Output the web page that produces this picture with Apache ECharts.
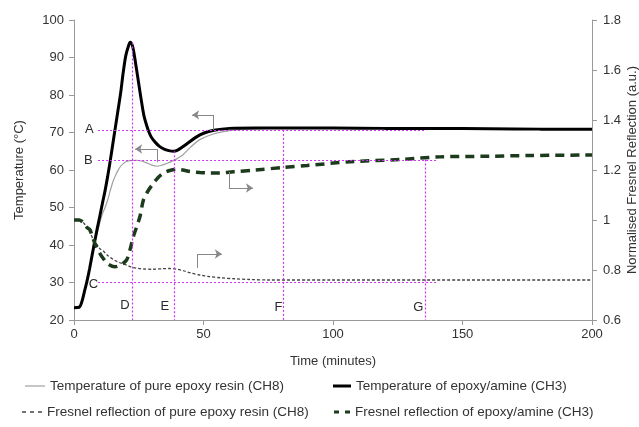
<!DOCTYPE html>
<html>
<head>
<meta charset="utf-8">
<script src="https://cdn.jsdelivr.net/npm/echarts@6/dist/echarts.min.js"></script>
<style>html,body{margin:0;padding:0;background:#fff}#c{width:639px;height:427px}</style>
</head>
<body>
<div id="c"></div>
<script>
// ---- data ----
var seriesNames = [
  'Temperature of pure epoxy resin (CH8)',
  'Temperature of epoxy/amine (CH3)',
  'Fresnel reflection of pure epoxy resin (CH8)',
  'Fresnel reflection of epoxy/amine (CH3)'
];
var xTicks = [0, 50, 100, 150, 200];

var tempCH3Time = [0,2,3,4,5,6,7,8,9,10,11,12,13,14,15,16,17,18,19,20,21,21.7,22.5,23.2,24,25,26,27,28,29,30,31.5,33,35,37,38.5,40,42,44,47,50,54,60,70,80,100,120,140,160,180,200];
var tempCH3 = [23.3,23.4,24.8,27.5,30.3,33.6,37.3,41,44.5,47.8,51.2,54.5,58.3,62.5,67,71.5,76,80.5,86,90.5,93,94.1,93.3,91,87.5,83,78.5,74.5,72,70,68.6,67.3,66.3,65.5,65.1,65,65.3,66.2,67.2,68.7,69.8,70.6,71.1,71.2,71.2,71.2,71.1,71.1,71,70.9,70.9];

var tempCH8Time = [0,2,3,4,5,6,7,8,9,10,11,12,13,14,15,16,17,18,19,20,21.5,24,26,28,30,32,34,36,38.3,40,42,45,48.6,53.8,60,67,75,80,100,120,140,160,180,200];
var tempCH8 = [23.3,23.4,24.8,27.5,30.3,33.6,37,40.3,43.3,46,48.3,50,52,54.5,56.8,58.5,59.9,61,61.7,62.2,62.5,62.6,62.4,61.9,61.3,61,61.3,61.8,62.5,63.1,64,66.1,68.1,69.6,70.5,70.9,71.1,71.2,71.2,71.1,71.1,71,70.9,70.9];

var fresCH8Time = [0,2,3,4,5,6.2,7.5,9,10,11.3,13,15.2,17.5,20.3,22,24.2,27,30.6,34,37,40,42.2,45,48.6,52,56.4,62,68,75,100,150,200];
var fresCH8 = [1.0,1.0,0.995,0.985,0.97,0.95,0.92,0.9,0.885,0.876,0.858,0.842,0.83,0.82,0.812,0.807,0.804,0.803,0.805,0.806,0.803,0.797,0.788,0.78,0.774,0.769,0.765,0.762,0.76,0.76,0.76,0.76];

var fresCH3Time = [0,2,3,4,5,6.2,7,8.1,9.5,11.3,13,15.8,18,20.3,21.6,22.8,24.2,25.5,26.8,28.5,30.6,32.5,34.5,37,39.6,42,44.8,48.6,52.5,56,61.5,70,80.8,90,106.6,125.9,141.3,160,176,200];
var fresCH3 = [1.0,1.0,0.995,0.985,0.97,0.96,0.935,0.906,0.875,0.846,0.825,0.813,0.82,0.84,0.88,0.93,0.973,1.015,1.08,1.115,1.146,1.17,1.187,1.198,1.203,1.2,1.194,1.19,1.188,1.188,1.193,1.2,1.21,1.218,1.233,1.242,1.2525,1.255,1.258,1.26];

// reference (magenta dotted) lines: [x1, y1, x2, y2] in data units (left axis)
var refLines = [
  [9.3, 70.6, 136, 70.6],   // A
  [9.3, 62.5, 140, 62.5],   // B
  [9.3, 30.2, 140, 30.2],   // C
  [22.3, 94, 22.3, 20],     // D
  [38.6, 65, 38.6, 20],     // E
  [80.8, 70.7, 80.8, 20],   // F
  [135.8, 62.8, 135.8, 20]  // G
];
var refLabels = ['A','B','C','D','E','F','G'];
var refLabelPos = [[5.9,70.8],[5.5,62.6],[7.5,29.6],[19.7,23.9],[35.1,23.5],[78.9,23.3],[132.9,23.3]];

// arrows (bracket + arrow) in data units: [xStart,yStart, xCorner,yCorner, xEnd,yEnd]
var arrows = [
  [53.7, 70.7, 53.7, 74.7, 45.6, 74.7],
  [32.0, 62.1, 32.0, 65.6, 23.6, 65.6],
  [59.8, 59.5, 59.8, 55.2, 69.1, 55.2],
  [47.5, 33.9, 47.5, 37.6, 57.1, 37.6]
];

function zip(a, b) { return a.map(function (v, i) { return [v, b[i]]; }); }

var FONT = "'Liberation Sans', Arial, sans-serif";
var TXT = '#333';
var AX = '#999';

var refData = refLines.map(function (l) {
  return [{ coord: [l[0], l[1]] }, { coord: [l[2], l[3]] }];
});
var arrowData = [];
arrows.forEach(function (a) {
  arrowData.push([{ coord: [a[0], a[1]], symbol: 'none' }, { coord: [a[2], a[3]], symbol: 'none' }]);
  arrowData.push([{ coord: [a[2], a[3]], symbol: 'none' }, { coord: [a[4], a[5]], symbol: 'arrow', symbolSize: 7 }]);
});
var labelData = refLabels.map(function (n, i) { return { name: n, value: refLabelPos[i] }; });

var ICON_GRAY = 'path://M0,0h20v1.2h-20z';
var ICON_BLACK = 'path://M0,0h18v3h-18z';
var ICON_DASH_THIN = 'path://M0,0h4v1.4h-4z M8,0h4v1.4h-4z M16,0h4v1.4h-4z';
var ICON_DASH_THICK = 'path://M0,0h5v3h-5z M11,0h5v3h-5z';

function legendAt(name, left, top, w, h, icon, color) {
  return {
    data: [{ name: name, icon: icon, itemStyle: { color: color, borderWidth: 0 } }],
    left: left, top: top, itemWidth: w, itemHeight: h,
    padding: 0, selectedMode: false,
    textStyle: { fontFamily: FONT, fontSize: 13.5, color: TXT }
  };
}

var chart = echarts.init(document.getElementById('c'), null, { renderer: 'canvas' });
chart.setOption({
  animation: false,
  backgroundColor: '#fff',
  textStyle: { fontFamily: FONT },
  grid: { left: 74, right: 47, top: 20, bottom: 107, outerBoundsMode: 'none', containLabel: false },
  legend: [
    legendAt(seriesNames[0], 25, 379, 20, 1.2, ICON_GRAY, '#a0a0a0'),
    legendAt(seriesNames[1], 333, 379, 18, 3, ICON_BLACK, '#000'),
    legendAt(seriesNames[2], 22, 405, 20, 1.4, ICON_DASH_THIN, '#444'),
    legendAt(seriesNames[3], 334, 405, 16, 3, ICON_DASH_THICK, '#1c3a1c')
  ],
  xAxis: {
    type: 'value', min: 0, max: 200, interval: 50,
    name: 'Time (minutes)', nameLocation: 'middle', nameGap: 35,
    nameTextStyle: { fontFamily: FONT, fontSize: 13, color: TXT },
    axisLine: { lineStyle: { color: AX } },
    axisTick: { show: true, length: 5, lineStyle: { color: AX } },
    axisLabel: { fontFamily: FONT, fontSize: 13, color: TXT, margin: 8,
      formatter: function (v) { return xTicks.indexOf(v) >= 0 ? String(v) : ''; } },
    splitLine: { show: false }
  },
  yAxis: [{
    type: 'value', min: 20, max: 100, interval: 10, position: 'left',
    name: 'Temperature (°C)', nameLocation: 'middle', nameGap: 48, nameRotate: 90,
    nameMoveOverlap: false,
    nameTextStyle: { fontFamily: FONT, fontSize: 13, color: TXT },
    axisLine: { show: true, lineStyle: { color: AX } },
    axisTick: { show: true, length: 5, lineStyle: { color: AX } },
    axisLabel: { fontFamily: FONT, fontSize: 13, color: TXT, margin: 10 },
    splitLine: { show: false }
  }, {
    type: 'value', min: 0.6, max: 1.8, interval: 0.2, position: 'right',
    name: 'Normalised Fresnel Reflection (a.u.)', nameLocation: 'middle', nameGap: 34, nameRotate: 90,
    nameMoveOverlap: false,
    nameTextStyle: { fontFamily: FONT, fontSize: 13, color: TXT },
    axisLine: { show: true, lineStyle: { color: AX } },
    axisTick: { show: true, length: 5, lineStyle: { color: AX } },
    axisLabel: { fontFamily: FONT, fontSize: 13, color: TXT, margin: 11,
      formatter: function (v) { return String(Math.round(v * 10) / 10); } },
    splitLine: { show: false }
  }],
  series: [
    {
      name: 'refLines', type: 'line', data: [], z: 1, silent: true,
      markLine: { silent: true, symbol: 'none', animation: false,
        label: { show: false },
        lineStyle: { color: '#cc33ee', type: [2, 2], width: 1.2 },
        data: refData }
    },
    {
      name: seriesNames[0], type: 'line', yAxisIndex: 0, z: 3,
      data: zip(tempCH8Time, tempCH8), smooth: 0.3, symbol: 'none',
      lineStyle: { color: '#a0a0a0', width: 1.2 }, itemStyle: { color: '#a0a0a0' }
    },
    {
      name: seriesNames[1], type: 'line', yAxisIndex: 0, z: 4,
      data: zip(tempCH3Time, tempCH3), smooth: 0.3, symbol: 'none',
      lineStyle: { color: '#000', width: 3 }, itemStyle: { color: '#000' }
    },
    {
      name: seriesNames[2], type: 'line', yAxisIndex: 1, z: 3,
      data: zip(fresCH8Time, fresCH8), smooth: 0.3, symbol: 'none',
      lineStyle: { color: '#444', width: 1.3, type: [3, 2] }, itemStyle: { color: '#444' }
    },
    {
      name: seriesNames[3], type: 'line', yAxisIndex: 1, z: 4,
      data: zip(fresCH3Time, fresCH3), smooth: 0.3, symbol: 'none',
      lineStyle: { color: '#1c3a1c', width: 3.5, type: [9, 6] }, itemStyle: { color: '#1c3a1c' }
    },
    {
      name: 'arrows', type: 'line', data: [], z: 5, silent: true,
      markLine: { silent: true, symbol: 'none', animation: false,
        label: { show: false },
        lineStyle: { color: '#888', type: 'solid', width: 1 },
        data: arrowData }
    },
    {
      name: 'refLabels', type: 'scatter', yAxisIndex: 0, z: 6, silent: true,
      symbolSize: 1, itemStyle: { color: 'rgba(0,0,0,0)' },
      label: { show: true, position: 'inside', formatter: '{b}', opacity: 1,
        textBorderWidth: 0, fontFamily: FONT, fontSize: 13, color: '#2a2a2a' },
      data: labelData
    }
  ]
});
</script>
</body>
</html>
